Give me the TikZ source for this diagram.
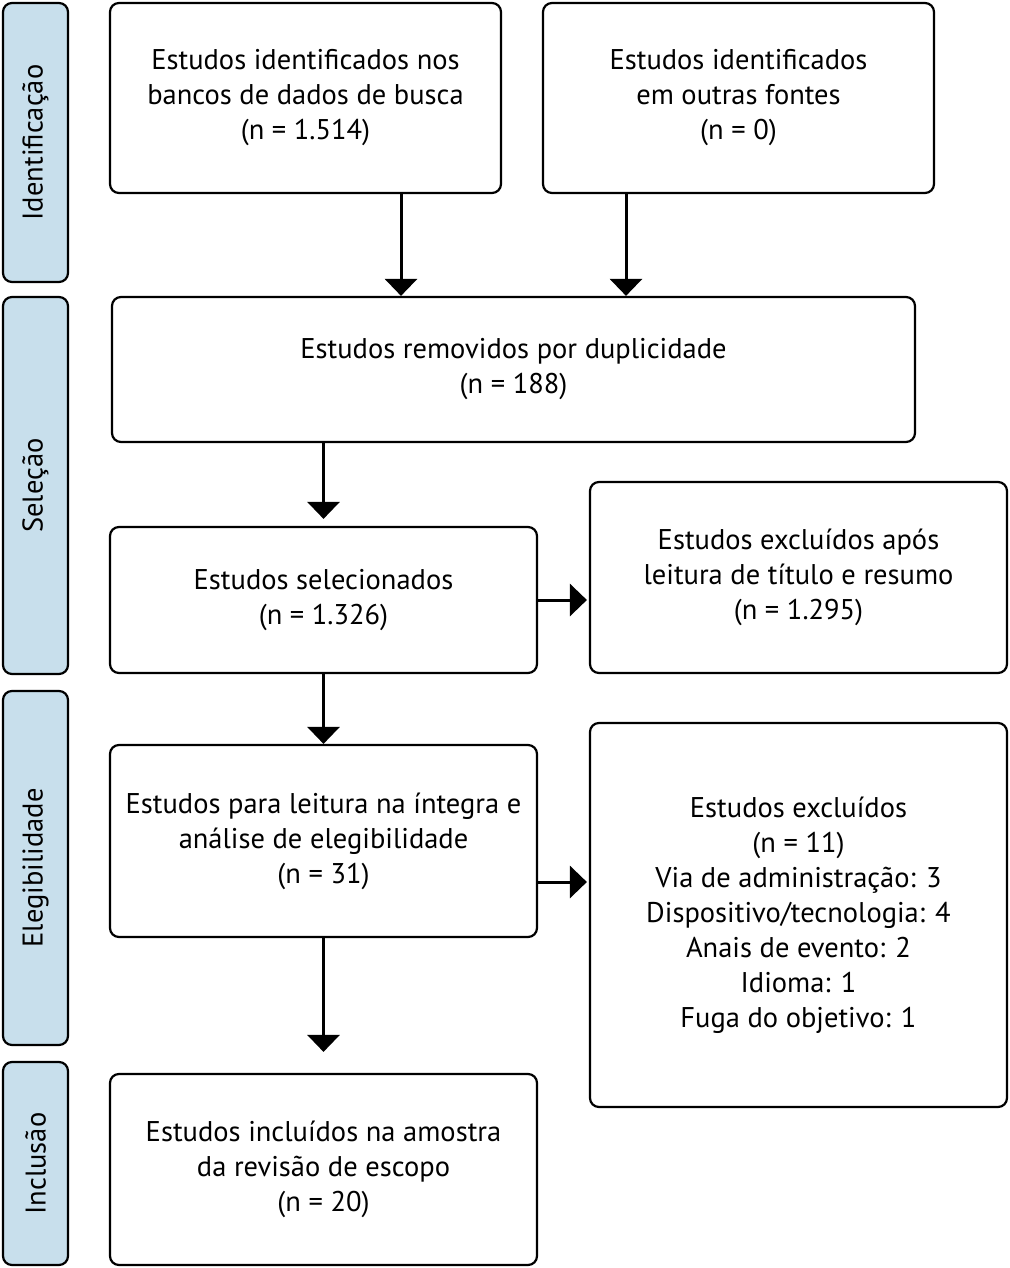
\documentclass[tikz,border=0pt]{standalone}
\usepackage{fontspec}
\setmainfont{PT Sans}
\usepackage{xcolor}
\usetikzlibrary{arrows.meta}

\definecolor{faseazul}{RGB}{200,223,236}

\tikzset{
  caixa/.style={draw, line width=2.2pt, rounded corners=9pt, align=center,
    inner sep=0pt, font=\fontsize{28.5}{35}\selectfont},
  fase/.style={draw, fill=faseazul, line width=2.2pt, rounded corners=9pt,
    rotate=90, minimum height=65pt, inner sep=0pt, font=\fontsize{28.5}{32}\selectfont},
  seta/.style={line width=3pt, -{Triangle[width=32pt,length=17pt]}},
}

\begin{document}
\begin{tikzpicture}[x=1pt,y=-1pt]
\useasboundingbox (0,0) rectangle (1009,1268);

% fases
\node[fase, minimum width=279pt] (idf) at (35.5,142.5) {Identificação};
\node[fase, minimum width=377pt] (sel) at (35.5,485.5) {Seleção};
\node[fase, minimum width=354pt] (ele) at (35.5,868) {Elegibilidade};
\node[fase, minimum width=203pt] (inc) at (35.5,1163.5) {Inclusão};

% caixas
\node[caixa, minimum width=391pt, minimum height=190pt] (bancos) at (305.5,98)
  {Estudos identificados nos\\bancos de dados de busca\\(n = 1.514)};
\node[caixa, minimum width=391pt, minimum height=190pt] (outras) at (738.5,98)
  {Estudos identificados\\em outras fontes\\(n = 0)};
\node[caixa, minimum width=803pt, minimum height=145pt] (dupl) at (513.5,369.5)
  {Estudos removidos por duplicidade\\(n = 188)};
\node[caixa, minimum width=427pt, minimum height=146pt] (selec) at (323.5,600)
  {Estudos selecionados\\(n = 1.326)};
\node[caixa, minimum width=417pt, minimum height=191pt] (exctit) at (798.5,577.5)
  {Estudos excluídos após\\leitura de título e resumo\\(n = 1.295)};
\node[caixa, minimum width=427pt, minimum height=192pt] (integra) at (323.5,841)
  {Estudos para leitura na íntegra e\\análise de elegibilidade\\(n = 31)};
\node[caixa, minimum width=417pt, minimum height=384pt] (exclui) at (798.5,915)
  {Estudos excluídos\\(n = 11)\\Via de administração: 3\\Dispositivo/tecnologia: 4\\Anais de evento: 2\\Idioma: 1\\Fuga do objetivo: 1};
\node[caixa, minimum width=427pt, minimum height=191pt] (amostra) at (323.5,1169.5)
  {Estudos incluídos na amostra\\da revisão de escopo\\(n = 20)};

% setas
\coordinate (colA) at (401,0);
\coordinate (colB) at (626,0);
\coordinate (linF) at (0,882);
\draw[seta] (bancos.south -| colA) -- (dupl.north -| colA);
\draw[seta] (outras.south -| colB) -- (dupl.north -| colB);
\draw[seta, shorten >=7pt] (dupl.south -| selec.north) -- (selec.north);
\draw[seta, shorten >=2pt] (selec.east) -- (exctit.west |- selec.east);
\draw[seta] (selec.south) -- (integra.north);
\draw[seta, shorten >=2pt] (integra.east |- linF) -- (exclui.west |- linF);
\draw[seta, shorten >=21pt] (integra.south) -- (amostra.north);
\end{tikzpicture}
\end{document}
